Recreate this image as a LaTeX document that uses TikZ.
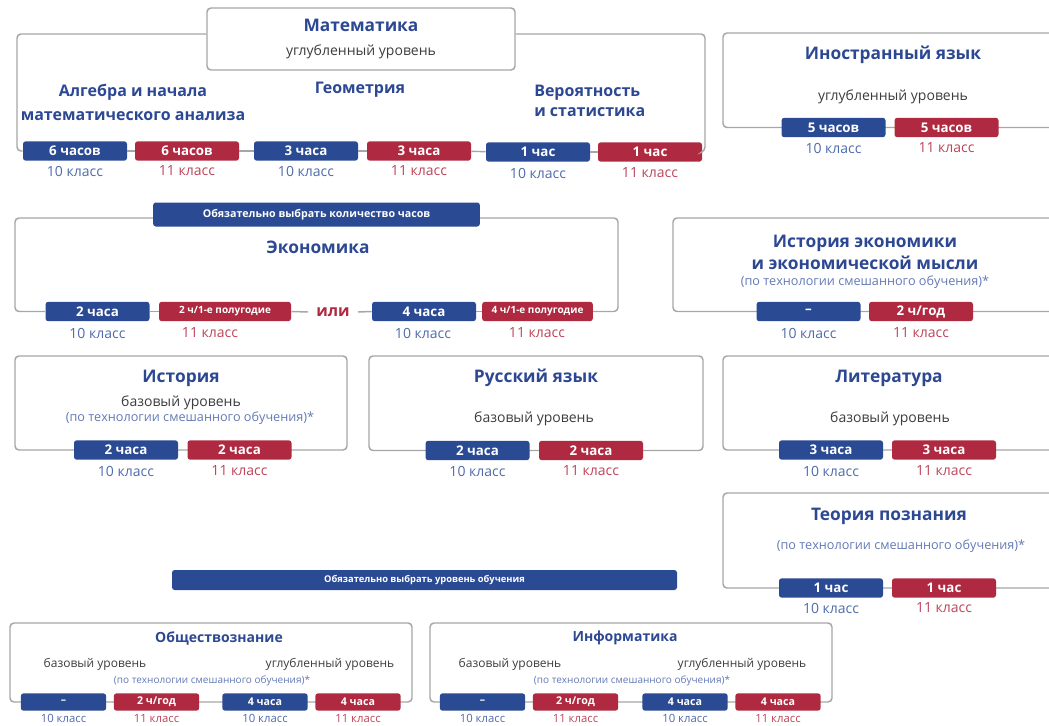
\documentclass[tikz,border=0pt]{standalone}
\usepackage{fontspec}
\setmainfont{Open Sans}
\usetikzlibrary{fit}
\definecolor{cblue}{HTML}{2B4A94}
\definecolor{cred}{HTML}{AF2A40}
\definecolor{tblue}{HTML}{2D4893}
\definecolor{lblue}{HTML}{4F6AAB}
\definecolor{lred}{HTML}{BC4458}
\definecolor{nblue}{HTML}{6379B5}
\definecolor{tgray}{HTML}{3C3C3C}
\definecolor{bord}{HTML}{A6A6A6}
\begin{document}
\begin{tikzpicture}[x=0.75pt,y=-0.75pt,
  frame/.style={draw=bord, line width=1.1pt, rounded corners=3pt, inner sep=0pt},
  conn/.style={draw=bord, line width=1.1pt, rounded corners=3pt},
  ttl/.style={text=tblue, font=\bfseries\fontsize{13}{17}\selectfont, align=center, inner sep=0pt},
  stl/.style={text=tblue, font=\bfseries\fontsize{12}{18}\selectfont, inner sep=0pt},
  sub/.style={text=tgray, font=\fontsize{10.5}{13}\selectfont, inner sep=0pt},
  note/.style={text=nblue, font=\fontsize{9.5}{12}\selectfont, inner sep=0pt},
  pill/.style={rounded corners=2pt, text=white, font=\bfseries\fontsize{10}{12}\selectfont, minimum width=78pt, minimum height=14.5pt, inner sep=0pt},
  pb/.style={pill, fill=cblue},
  pr/.style={pill, fill=cred},
  lb/.style={text=lblue, font=\fontsize{10.5}{12}\selectfont, inner sep=0pt},
  lr/.style={text=lred, font=\fontsize{10.5}{12}\selectfont, inner sep=0pt},
  spill/.style={rounded corners=2pt, text=white, font=\bfseries\fontsize{8}{10}\selectfont, minimum width=64pt, minimum height=13pt, inner sep=0pt},
  spb/.style={spill, fill=cblue},
  spr/.style={spill, fill=cred},
  slb/.style={text=lblue, font=\fontsize{8.5}{10}\selectfont, inner sep=0pt},
  slr/.style={text=lred, font=\fontsize{8.5}{10}\selectfont, inner sep=0pt},
  sttl/.style={text=tblue, font=\bfseries\fontsize{10.5}{13}\selectfont, inner sep=0pt},
  ssub/.style={text=tgray, font=\fontsize{9}{11}\selectfont, inner sep=0pt},
  snote/.style={text=nblue, font=\fontsize{7.5}{9}\selectfont, inner sep=0pt},
  banner/.style={fill=cblue, text=white, rounded corners=2pt, inner sep=0pt, font=\bfseries\fontsize{8}{10}\selectfont}
]
\useasboundingbox (0,0) rectangle (1049,725);
\clip (0,0) rectangle (1049,725);

% ---------- Mathematics ----------
\node[frame, fit={(207,8) (515,70)}] (mt) {};
\node[ttl] (mtt) at (361,25) {Математика};
\node[sub] (mts) at (361,52) {углубленный уровень};
\node[stl, align=center] (alg) at (133,102) {Алгебра и начала\\математического анализа};
\node[stl] (geo) at (360,90) {Геометрия};
\node[stl, align=left, anchor=west, font=\bfseries\fontsize{12}{14.5}\selectfont] (ver) at (534,101) {Вероятность\\и статистика};
\node[pb] (m1) at (75,151) {6 часов};
\node[pr] (m2) at (187,151) {6 часов};
\node[pb] (m3) at (306,151) {3 часа};
\node[pr] (m4) at (419,151) {3 часа};
\node[pb] (m5) at (538,152) {1 час};
\node[pr] (m6) at (650,152) {1 час};
\node[lb] (m1l) at (75,171) {10 класс};
\node[lr] (m2l) at (187,171) {11 класс};
\node[lb] (m3l) at (306,171) {10 класс};
\node[lr] (m4l) at (419,171) {11 класс};
\node[lb] (m5l) at (538,173) {10 класс};
\node[lr] (m6l) at (650,173) {11 класс};
\coordinate (my) at (0,34);
\coordinate (mBL) at (17,151);
\coordinate (mBR) at (705,151);
\draw[conn] (mt.west |- my) -| (mBL) -- (m1.west);
\draw[conn] (m1) -- (m2);
\draw[conn] (m2) -- (m3);
\draw[conn] (m3) -- (m4);
\draw[conn] (m4) -- (m5);
\draw[conn] (m5) -- (m6);
\draw[conn] (m6.east) -- (mBR) |- (mt.east |- my);

% ---------- Foreign language ----------
\node[frame, fit={(723,33) (1060,127.5)}] (fl) {};
\node[ttl] (flt) at (893,55) {Иностранный язык};
\node[sub] (fls) at (893,97) {углубленный уровень};
\node[pb] (f1) at (833.5,127.5) {5 часов};
\node[pr] (f2) at (946.5,127.5) {5 часов};
\node[lb] (f1l) at (833.5,148) {10 класс};
\node[lr] (f2l) at (946.5,148) {11 класс};

% ---------- Economics ----------
\node[banner, minimum width=245pt, minimum height=18pt] (eb) at (316.5,214.5) {Обязательно выбрать количество часов};
\node[ttl] (ekt) at (318,247) {Экономика};
\node[pb] (e1) at (97.5,311.5) {2 часа};
\node[pr, minimum width=99pt, font=\bfseries\fontsize{7.5}{9}\selectfont] (e2) at (225,311.5) {2 ч/1-е полугодие};
\node[text=cred, font=\bfseries\fontsize{12}{14}\selectfont, inner sep=0pt] (ili) at (333,312) {или};
\node[pb] (e3) at (424,311.5) {4 часа};
\node[pr, minimum width=83pt, font=\bfseries\fontsize{7.5}{9}\selectfont] (e4) at (537.5,311.5) {4 ч/1-е полугодие};
\node[lb] (e1l) at (97.5,333) {10 класс};
\node[lr] (e2l) at (210,333) {11 класс};
\node[lb] (e3l) at (423,333) {10 класс};
\node[lr] (e4l) at (537,333) {11 класс};
\coordinate (ey) at (0,218);
\coordinate (eBL) at (15,311.5);
\coordinate (eBR) at (618,311.5);
\draw[conn] (eb.west |- ey) -| (eBL) -- (e1.west);
\draw[conn] (e1) -- (e2);
\draw[conn] (e2.east) -- ([xshift=-6pt]ili.west);
\draw[conn] ([xshift=6pt]ili.east) -- (e3.west);
\draw[conn] (e3) -- (e4);
\draw[conn] (e4.east) -- (eBR) |- (eb.east |- ey);

% ---------- History of economics ----------
\node[frame, fit={(673,218) (1060,311.5)}] (he) {};
\node[ttl] (het) at (865,252.5) {История экономики\\и экономической мысли};
\node[note] (hen) at (865,282) {(по технологии смешанного обучения)*};
\node[pb] (h1) at (808.5,311.5) {–};
\node[pr] (h2) at (921,311.5) {2 ч/год};
\node[lb] (h1l) at (808.5,333) {10 класс};
\node[lr] (h2l) at (921,333) {11 класс};

% ---------- History ----------
\node[frame, fit={(15,356) (347,450)}] (hi) {};
\node[ttl] (hit) at (181,378) {История};
\node[sub] (his) at (181,403) {базовый уровень};
\node[note] (hin) at (190,418) {(по технологии смешанного обучения)*};
\node[pb] (i1) at (126,450) {2 часа};
\node[pr] (i2) at (239.5,450) {2 часа};
\node[lb] (i1l) at (126,471) {10 класс};
\node[lr] (i2l) at (239.5,471) {11 класс};

% ---------- Russian ----------
\node[frame, fit={(369,356) (703,450.5)}] (ru) {};
\node[ttl] (rut) at (536,378) {Русский язык};
\node[sub] (rus) at (534,419) {базовый уровень};
\node[pb] (r1) at (477.5,450.5) {2 часа};
\node[pr] (r2) at (591,450.5) {2 часа};
\node[lb] (r1l) at (477.5,471) {10 класс};
\node[lr] (r2l) at (591,471) {11 класс};

% ---------- Literature ----------
\node[frame, fit={(723,356) (1060,450)}] (li) {};
\node[ttl] (lit) at (889,378) {Литература};
\node[sub] (lis) at (890,419) {базовый уровень};
\node[pb] (l1) at (831,450) {3 часа};
\node[pr] (l2) at (944,450) {3 часа};
\node[lb] (l1l) at (831,471) {10 класс};
\node[lr] (l2l) at (944,471) {11 класс};

% ---------- Theory of knowledge ----------
\node[frame, fit={(723,493) (1060,588)}] (tp) {};
\node[ttl] (tpt) at (889,516) {Теория познания};
\node[note] (tpn) at (901,546) {(по технологии смешанного обучения)*};
\node[pb] (t1) at (831,588) {1 час};
\node[pr] (t2) at (944,588) {1 час};
\node[lb] (t1l) at (831,608) {10 класс};
\node[lr] (t2l) at (944,608) {11 класс};

% ---------- Level banner ----------
\node[banner, minimum width=378.75pt, minimum height=15pt, font=\bfseries\fontsize{7}{9}\selectfont] (lbn) at (424.5,580) {Обязательно выбрать уровень обучения};

% ---------- Social studies ----------
\node[frame, fit={(10,623) (412,702)}] (ob) {};
\node[sttl] (obt) at (219,638) {Обществознание};
\node[ssub] (obs1) at (95,664) {базовый уровень};
\node[ssub] (obs2) at (330,664) {углубленный уровень};
\node[snote] (obn) at (212,681) {(по технологии смешанного обучения)*};
\node[spb] (o1) at (63.5,702) {–};
\node[spr] (o2) at (156.5,702) {2 ч/год};
\node[spb] (o3) at (265,702) {4 часа};
\node[spr] (o4) at (358,702) {4 часа};
\node[slb] (o1l) at (63.5,718) {10 класс};
\node[slr] (o2l) at (156.5,718) {11 класс};
\node[slb] (o3l) at (265,718) {10 класс};
\node[slr] (o4l) at (358,718) {11 класс};

% ---------- Informatics ----------
\node[frame, fit={(430,623) (832,702)}] (inf) {};
\node[sttl] (inft) at (625,638) {Информатика};
\node[ssub] (infs1) at (510,664) {базовый уровень};
\node[ssub] (infs2) at (742,664) {углубленный уровень};
\node[snote] (infn) at (632,681) {(по технологии смешанного обучения)*};
\node[spb] (n1) at (482.5,702) {–};
\node[spr] (n2) at (575.5,702) {2 ч/год};
\node[spb] (n3) at (685,702) {4 часа};
\node[spr] (n4) at (778,702) {4 часа};
\node[slb] (n1l) at (482.5,718) {10 класс};
\node[slr] (n2l) at (575.5,718) {11 класс};
\node[slb] (n3l) at (685,718) {10 класс};
\node[slr] (n4l) at (778,718) {11 класс};
\end{tikzpicture}
\end{document}
